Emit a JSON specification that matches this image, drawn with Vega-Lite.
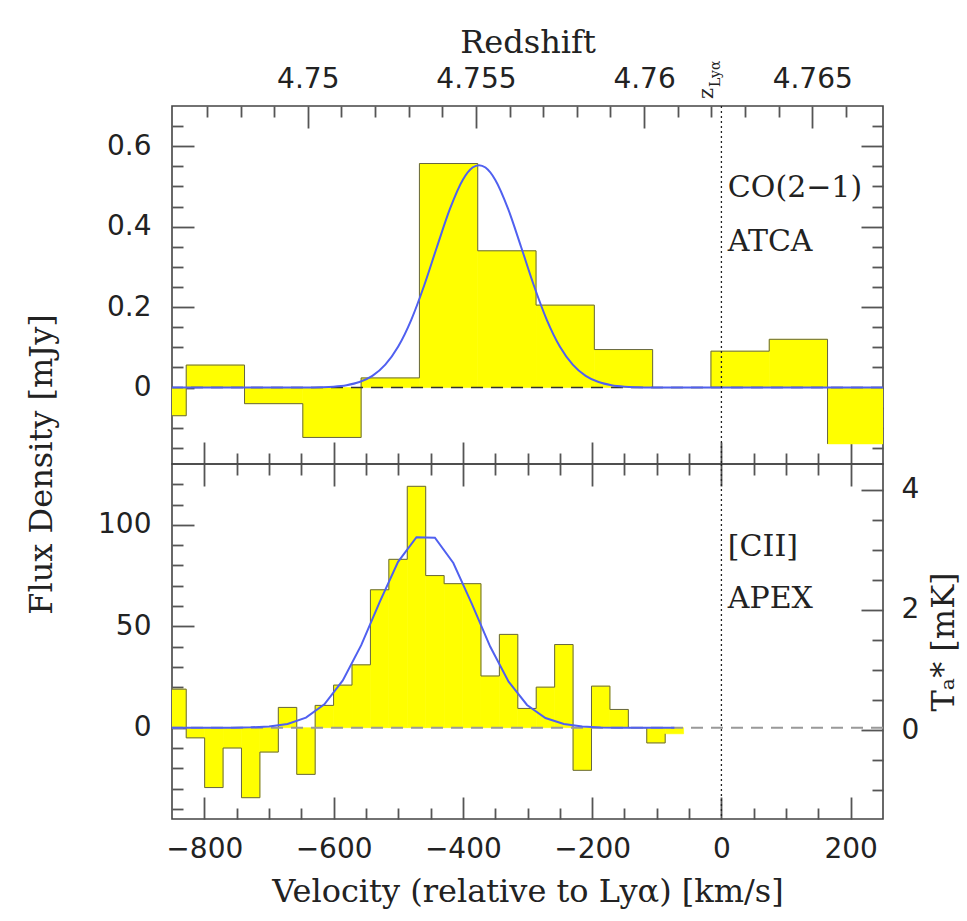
{
  "$schema": "https://vega.github.io/schema/vega-lite/v6.json",
  "background": "white",
  "padding": {"left": 24, "top": 25, "right": 8, "bottom": 16},
  "spacing": 0,
  "bounds": "flush",
  "datasets": {
    "topHist": [
      {"v1": -918.2, "v2": -828, "f": -0.07},
      {"v1": -828, "v2": -737.8, "f": 0.056},
      {"v1": -737.8, "v2": -647.6, "f": -0.04},
      {"v1": -647.6, "v2": -557.4, "f": -0.124},
      {"v1": -557.4, "v2": -467.2, "f": 0.024},
      {"v1": -467.2, "v2": -377, "f": 0.557},
      {"v1": -377, "v2": -286.8, "f": 0.34},
      {"v1": -286.8, "v2": -196.6, "f": 0.205},
      {"v1": -196.6, "v2": -106.4, "f": 0.0945},
      {"v1": -106.4, "v2": -16.2, "f": 0},
      {"v1": -16.2, "v2": 74, "f": 0.0905},
      {"v1": 74, "v2": 164.2, "f": 0.12},
      {"v1": 164.2, "v2": 254.4, "f": -0.14}
    ],
    "topFit": [
      {"v": -850, "f": 0}, {"v": -640, "f": 0.0003}, {"v": -620, "f": 0.0009}, {"v": -600, "f": 0.0023},
      {"v": -580, "f": 0.0059}, {"v": -560, "f": 0.0137}, {"v": -540, "f": 0.0291}, {"v": -520, "f": 0.057},
      {"v": -500, "f": 0.1021}, {"v": -480, "f": 0.1679}, {"v": -460, "f": 0.2532}, {"v": -440, "f": 0.3502},
      {"v": -420, "f": 0.4442}, {"v": -400, "f": 0.5168}, {"v": -385, "f": 0.547}, {"v": -375, "f": 0.553},
      {"v": -365, "f": 0.547}, {"v": -350, "f": 0.5168}, {"v": -330, "f": 0.4442}, {"v": -310, "f": 0.3502},
      {"v": -290, "f": 0.2532}, {"v": -270, "f": 0.1679}, {"v": -250, "f": 0.1021}, {"v": -230, "f": 0.057},
      {"v": -210, "f": 0.0291}, {"v": -190, "f": 0.0137}, {"v": -170, "f": 0.0059}, {"v": -150, "f": 0.0023},
      {"v": -130, "f": 0.0009}, {"v": -110, "f": 0.0003}, {"v": 250, "f": 0}
    ],
    "botHist": [
      {"v1": -856.5, "v2": -828, "f": 19},
      {"v1": -828, "v2": -799.5, "f": -5},
      {"v1": -799.5, "v2": -771, "f": -29.5},
      {"v1": -771, "v2": -742.5, "f": -10},
      {"v1": -742.5, "v2": -714, "f": -34.5},
      {"v1": -714, "v2": -685.5, "f": -12},
      {"v1": -685.5, "v2": -657, "f": 10},
      {"v1": -657, "v2": -628.5, "f": -23},
      {"v1": -628.5, "v2": -600, "f": 11},
      {"v1": -600, "v2": -571.5, "f": 21},
      {"v1": -571.5, "v2": -543, "f": 31},
      {"v1": -543, "v2": -514.5, "f": 68},
      {"v1": -514.5, "v2": -486, "f": 83},
      {"v1": -486, "v2": -457.5, "f": 119},
      {"v1": -457.5, "v2": -429, "f": 75},
      {"v1": -429, "v2": -400.5, "f": 71},
      {"v1": -400.5, "v2": -372, "f": 71},
      {"v1": -372, "v2": -343.5, "f": 25.5},
      {"v1": -343.5, "v2": -315, "f": 46},
      {"v1": -315, "v2": -286.5, "f": 9.5},
      {"v1": -286.5, "v2": -258, "f": 20},
      {"v1": -258, "v2": -229.5, "f": 41},
      {"v1": -229.5, "v2": -201, "f": -21},
      {"v1": -201, "v2": -172.5, "f": 20.5},
      {"v1": -172.5, "v2": -144, "f": 9},
      {"v1": -144, "v2": -115.5, "f": 0},
      {"v1": -115.5, "v2": -87, "f": -7.5},
      {"v1": -87, "v2": -58.5, "f": -3}
    ],
    "botFit": [
      {"v": -870.75, "f": 0}, {"v": -842.25, "f": 0}, {"v": -813.75, "f": 0}, {"v": -785.25, "f": 0.01},
      {"v": -756.75, "f": 0.04}, {"v": -728.25, "f": 0.17}, {"v": -699.75, "f": 0.61}, {"v": -671.25, "f": 1.86},
      {"v": -642.75, "f": 4.97}, {"v": -614.25, "f": 11.5}, {"v": -585.75, "f": 23.3}, {"v": -557.25, "f": 40.7},
      {"v": -528.75, "f": 61.9}, {"v": -500.25, "f": 81.8}, {"v": -471.75, "f": 93.9}, {"v": -443.25, "f": 93.7},
      {"v": -414.75, "f": 81.2}, {"v": -386.25, "f": 61.2}, {"v": -357.75, "f": 40.0}, {"v": -329.25, "f": 22.7},
      {"v": -300.75, "f": 11.2}, {"v": -272.25, "f": 4.8}, {"v": -243.75, "f": 1.8}, {"v": -215.25, "f": 0.58},
      {"v": -186.75, "f": 0.16}, {"v": -158.25, "f": 0.04}, {"v": -129.75, "f": 0.01}, {"v": -101.25, "f": 0},
      {"v": -72.75, "f": 0}
    ],
    "labelsTop": [
      {"v": 10, "f": 0.474, "t": "CO(2−1)"},
      {"v": 10, "f": 0.339, "t": "ATCA"}
    ],
    "labelsBot": [
      {"v": 10, "f": 84.6, "t": "[CII]"},
      {"v": 10, "f": 59, "t": "APEX"}
    ],
    "zmark": [{"z": 4.7623, "f": 0.7}],
    "tdummy": [{"v": 0, "T": 0}],
    "one": [{"k": 1}]
  },
  "vconcat": [
    {
      "width": 711,
      "height": 358,
      "resolve": {"scale": {"x": "independent", "y": "independent"}},
      "layer": [
        {
          "layer": [
            {
              "data": {"name": "topHist"},
              "mark": {"type": "rect", "fill": "#ffff00", "stroke": "#ffff00", "strokeWidth": 0.6, "clip": true},
              "encoding": {
                "x": {
                  "field": "v1", "type": "quantitative",
                  "scale": {"domain": [-850, 250], "nice": false, "zero": false},
                  "axis": {
                    "orient": "bottom", "title": null, "labels": false, "tickCount": 200,
                    "values": [-800,-750,-700,-650,-600,-550,-500,-450,-400,-350,-300,-250,-200,-150,-100,-50,0,50,100,150,200],
                    "tickSize": {"condition": {"test": "abs(round(datum.value)) % 200 === 0", "value": -22}, "value": -11}
                  }
                },
                "x2": {"field": "v2"},
                "y": {
                  "field": "f", "type": "quantitative",
                  "scale": {"domain": [-0.19, 0.7], "nice": false, "zero": false},
                  "axis": {
                    "orient": "left", "tickCount": 200, "labelOverlap": false,
                    "values": [-0.15,-0.1,-0.05,0,0.05,0.1,0.15,0.2,0.25,0.3,0.35,0.4,0.45,0.5,0.55,0.6,0.65],
                    "labelExpr": "abs(round(datum.value*100)) % 20 === 0 ? format(datum.value, '') : ''",
                    "tickSize": {"condition": {"test": "abs(round(datum.value*100)) % 20 === 0", "value": -22}, "value": -11},
                    "labelPadding": 43,
                    "title": "Flux Density [mJy]",
                    "titleX": -121, "titleY": 358, "titleAngle": -90,
                    "titleBaseline": "alphabetic", "titleAlign": "center"
                  }
                },
                "y2": {"datum": 0}
              }
            },
            {
              "data": {"name": "topHist"},
              "mark": {"type": "line", "interpolate": "step-after", "color": "#666644", "strokeWidth": 1, "clip": true},
              "encoding": {
                "x": {"field": "v1", "type": "quantitative"},
                "y": {"field": "f", "type": "quantitative"}
              }
            },
            {
              "data": {"name": "one"},
              "mark": {"type": "rule", "color": "#333333", "strokeDash": [12, 8], "strokeWidth": 1.6},
              "encoding": {"y": {"datum": 0}}
            },
            {
              "data": {"name": "topFit"},
              "mark": {"type": "line", "color": "#5060f0", "strokeWidth": 2, "interpolate": "monotone", "clip": true},
              "encoding": {
                "x": {"field": "v", "type": "quantitative"},
                "y": {"field": "f", "type": "quantitative"}
              }
            },
            {
              "data": {"name": "one"},
              "mark": {"type": "rule", "color": "#222222", "strokeDash": [2, 3], "strokeWidth": 1.3},
              "encoding": {"x": {"datum": 0}}
            },
            {
              "data": {"name": "labelsTop"},
              "mark": {"type": "text", "align": "left", "baseline": "alphabetic", "font": "DejaVu Serif", "fontSize": 30, "color": "#222222"},
              "encoding": {
                "x": {"field": "v", "type": "quantitative"},
                "y": {"field": "f", "type": "quantitative"},
                "text": {"field": "t"}
              }
            }
          ]
        },
        {
          "layer": [
            {
              "data": {"name": "zmark"},
              "mark": {"type": "text", "text": "z", "angle": 270, "align": "left", "baseline": "alphabetic", "dx": 7, "dy": -8, "font": "DejaVu Serif", "fontSize": 21, "color": "#222222"},
              "encoding": {
                "x": {
                  "field": "z", "type": "quantitative",
                  "scale": {"domain": [4.7459621, 4.7671053], "nice": false, "zero": false},
                  "axis": {
                    "orient": "top", "tickCount": 200, "labelOverlap": false,
                    "values": [4.747,4.748,4.749,4.75,4.751,4.752,4.753,4.754,4.755,4.756,4.757,4.758,4.759,4.76,4.761,4.762,4.763,4.764,4.765,4.766],
                    "labelExpr": "abs(round(datum.value*1000)) % 5 === 0 ? format(datum.value, '') : ''",
                    "tickSize": {"condition": {"test": "abs(round(datum.value*1000)) % 5 === 0", "value": -22}, "value": -11},
                    "labelPadding": 41, "labelBaseline": "alphabetic",
                    "title": "Redshift", "titleX": 355.5, "titleY": -54,
                    "titleBaseline": "alphabetic", "titleAlign": "center", "titleAngle": 0
                  }
                },
                "y": {
                  "field": "f", "type": "quantitative",
                  "scale": {"domain": [-0.19, 0.7], "nice": false, "zero": false},
                  "axis": {
                    "orient": "right", "labels": false, "title": null, "tickCount": 200,
                    "values": [-0.15,-0.1,-0.05,0,0.05,0.1,0.15,0.2,0.25,0.3,0.35,0.4,0.45,0.5,0.55,0.6,0.65],
                    "tickSize": {"condition": {"test": "abs(round(datum.value*100)) % 20 === 0", "value": -22}, "value": -11}
                  }
                }
              }
            },
            {
              "data": {"name": "zmark"},
              "mark": {"type": "text", "text": "Lyα", "angle": 270, "align": "left", "baseline": "alphabetic", "dx": 19, "dy": -1, "font": "DejaVu Serif", "fontSize": 14, "color": "#222222"},
              "encoding": {
                "x": {"field": "z", "type": "quantitative"},
                "y": {"field": "f", "type": "quantitative"}
              }
            }
          ]
        }
      ]
    },
    {
      "width": 711,
      "height": 355,
      "resolve": {"scale": {"x": "independent", "y": "independent"}},
      "layer": [
        {
          "layer": [
            {
              "data": {"name": "botHist"},
              "mark": {"type": "rect", "fill": "#ffff00", "stroke": "#ffff00", "strokeWidth": 0.6, "clip": true},
              "encoding": {
                "x": {
                  "field": "v1", "type": "quantitative",
                  "scale": {"domain": [-850, 250], "nice": false, "zero": false},
                  "axis": {
                    "orient": "bottom", "tickCount": 200, "labelOverlap": false,
                    "values": [-800,-750,-700,-650,-600,-550,-500,-450,-400,-350,-300,-250,-200,-150,-100,-50,0,50,100,150,200],
                    "labelExpr": "abs(round(datum.value)) % 200 === 0 ? format(datum.value, '') : ''",
                    "tickSize": {"condition": {"test": "abs(round(datum.value)) % 200 === 0", "value": -22}, "value": -11},
                    "labelPadding": 38,
                    "title": "Velocity (relative to Lyα) [km/s]",
                    "titleX": 355.5, "titleY": 82, "titleBaseline": "alphabetic", "titleAlign": "center"
                  }
                },
                "x2": {"field": "v2"},
                "y": {
                  "field": "f", "type": "quantitative",
                  "scale": {"domain": [-45, 130], "nice": false, "zero": false},
                  "axis": {
                    "orient": "left", "title": null, "tickCount": 200, "labelOverlap": false,
                    "values": [-40,-30,-20,-10,0,10,20,30,40,50,60,70,80,90,100,110,120],
                    "labelExpr": "abs(round(datum.value)) % 50 === 0 ? format(datum.value, '') : ''",
                    "tickSize": {"condition": {"test": "abs(round(datum.value)) % 50 === 0", "value": -22}, "value": -11},
                    "labelPadding": 43
                  }
                },
                "y2": {"datum": 0}
              }
            },
            {
              "data": {"name": "botHist"},
              "mark": {"type": "line", "interpolate": "step-after", "color": "#666644", "strokeWidth": 1, "clip": true},
              "encoding": {
                "x": {"field": "v1", "type": "quantitative"},
                "y": {"field": "f", "type": "quantitative"}
              }
            },
            {
              "data": {"name": "one"},
              "mark": {"type": "rule", "color": "#999999", "strokeDash": [12, 8], "strokeWidth": 2},
              "encoding": {"y": {"datum": 0}}
            },
            {
              "data": {"name": "botFit"},
              "mark": {"type": "line", "color": "#5060f0", "strokeWidth": 2, "clip": true},
              "encoding": {
                "x": {"field": "v", "type": "quantitative"},
                "y": {"field": "f", "type": "quantitative"}
              }
            },
            {
              "data": {"name": "one"},
              "mark": {"type": "rule", "color": "#222222", "strokeDash": [2, 3], "strokeWidth": 1.3},
              "encoding": {"x": {"datum": 0}}
            },
            {
              "data": {"name": "labelsBot"},
              "mark": {"type": "text", "align": "left", "baseline": "alphabetic", "font": "DejaVu Serif", "fontSize": 30, "color": "#222222"},
              "encoding": {
                "x": {"field": "v", "type": "quantitative"},
                "y": {"field": "f", "type": "quantitative"},
                "text": {"field": "t"}
              }
            }
          ]
        },
        {
          "data": {"name": "tdummy"},
          "mark": {"type": "point", "opacity": 0},
          "encoding": {
            "x": {
              "field": "v", "type": "quantitative",
              "scale": {"domain": [-850, 250], "nice": false, "zero": false},
              "axis": {
                "orient": "top", "labels": false, "title": null, "tickCount": 200,
                "values": [-800,-750,-700,-650,-600,-550,-500,-450,-400,-350,-300,-250,-200,-150,-100,-50,0,50,100,150,200],
                "tickSize": {"condition": {"test": "abs(round(datum.value)) % 200 === 0", "value": -22}, "value": -11}
              }
            },
            "y": {
              "field": "T", "type": "quantitative",
              "scale": {"domain": [-1.48, 4.43], "nice": false, "zero": false},
              "axis": {
                "orient": "right", "tickCount": 200, "labelOverlap": false,
                "values": [-1,-0.5,0,0.5,1,1.5,2,2.5,3,3.5,4],
                "labelExpr": "abs(round(datum.value*10)) % 20 === 0 ? format(datum.value, '') : ''",
                "tickSize": {"condition": {"test": "abs(round(datum.value*10)) % 20 === 0", "value": -22}, "value": -11},
                "labelPadding": 40,
                "title": "Tₐ* [mK]", "titleAngle": -90, "titleX": 70, "titleY": 177.5,
                "titleBaseline": "alphabetic", "titleAlign": "center"
              }
            }
          }
        }
      ]
    }
  ],
  "config": {
    "view": {"stroke": "#444444", "strokeWidth": 1.6},
    "axis": {
      "domain": false, "grid": false,
      "tickColor": "#555555", "tickWidth": 1.8,
      "labelFont": "DejaVu Sans", "labelFontSize": 28, "labelColor": "#222222",
      "labelOverlap": false, "labelFlush": false, "labelBound": false,
      "titleFont": "DejaVu Serif", "titleFontSize": 32, "titleFontWeight": "normal", "titleColor": "#222222"
    }
  }
}
